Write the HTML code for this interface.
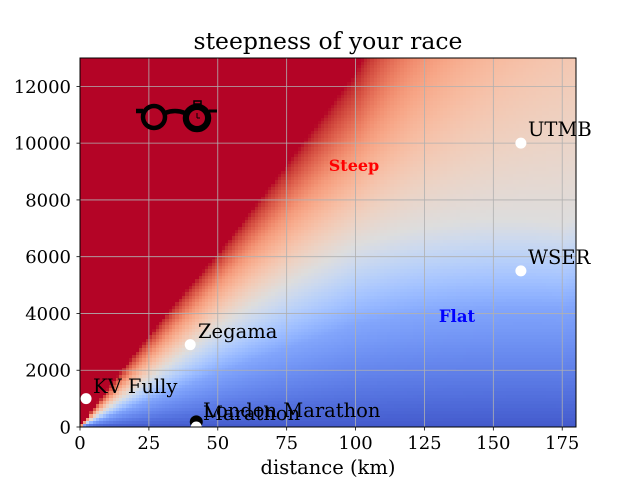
<!DOCTYPE html>
<html><head><meta charset="utf-8"><style>
body{margin:0;background:#fff;width:640px;height:480px;overflow:hidden;position:relative;font-family:"DejaVu Serif","Liberation Serif",serif;}
#hm{position:absolute;left:80px;top:58px;image-rendering:pixelated;}
svg{position:absolute;left:0;top:0;font-family:"DejaVu Serif","Liberation Serif",serif;}
svg text{font-family:"DejaVu Serif","Liberation Serif",serif;}
</style></head><body>
<canvas id="hm" width="496" height="369"></canvas>
<svg id="ov" width="640" height="480"></svg>
<script>
const xTicks=[0,25,50,75,100,125,150,175];
const yTicks=[0,2000,4000,6000,8000,10000,12000];
const raceNames=["KV Fully","Zegama","UTMB","WSER","London Marathon","Marathon"];
const raceDist=[2.2,40,160,160,42.2,42.2];
const raceElev=[1000,2900,10000,5500,180,0];
// heatmap calibration: ratio m/km at colormap levels, per distance
const calDist=[0,50,100,175];
const calR25=[36,38,36,24];
const calR50=[65,70,64,41];
const calR75=[100,100,97,112];
const calR100=[135,122,125,185];
const cw=[[59,76,192],[68,90,204],[77,104,215],[87,117,225],[98,130,234],[108,142,241],[119,154,247],[130,165,251],[141,176,254],[152,185,255],[163,194,255],[174,201,253],[184,208,249],[194,213,244],[204,217,238],[213,219,230],[221,221,221],[229,216,209],[236,211,197],[241,204,185],[245,196,173],[247,187,160],[247,177,148],[247,166,135],[244,154,123],[241,141,111],[236,127,99],[229,112,88],[222,96,77],[213,80,66],[203,62,56],[192,40,47],[180,4,38]];
const X0=80,X1=576,Y0=58,Y1=427,XMAX=180,YMAX=13000;
const xs=d=>X0+d/XMAX*(X1-X0), ys=e=>Y1-e/YMAX*(Y1-Y0);
function lerpArr(xa,ya,x){if(x<=xa[0])return ya[0];for(let i=1;i<xa.length;i++){if(x<=xa[i]){const f=(x-xa[i-1])/(xa[i]-xa[i-1]);return ya[i-1]+f*(ya[i]-ya[i-1]);}}return ya[ya.length-1];}
function tval(d,e){const r=e/Math.max(d,0.01);
 const kr=[0,lerpArr(calDist,calR25,d),lerpArr(calDist,calR50,d),lerpArr(calDist,calR75,d),lerpArr(calDist,calR100,d)];
 return Math.min(1,lerpArr(kr,[0.03,0.22,0.5,0.75,1],r));}
function cmap(t){t=Math.max(0,Math.min(1,t));const p=t*32,i=Math.min(31,Math.floor(p)),f=p-i;const a=cw[i],b=cw[i+1];return a.map((v,k)=>Math.round(v+f*(b[k]-v)));}
const cv=document.getElementById('hm'),ctx=cv.getContext('2d');
const NC=150,NR=112,W=496,H=369;
for(let i=0;i<NC;i++)for(let j=0;j<NR;j++){
 const d=(i+0.5)*XMAX/NC,e=(j+0.5)*YMAX/NR;const c=cmap(tval(d,e));
 ctx.fillStyle=`rgb(${c[0]},${c[1]},${c[2]})`;
 const x0=Math.floor(i*W/NC),x1=Math.ceil((i+1)*W/NC),y1=Math.ceil(H-j*H/NR),y0=Math.floor(H-(j+1)*H/NR);
 ctx.fillRect(x0,y0,x1-x0,y1-y0);}
const ov=document.getElementById('ov');const NS='http://www.w3.org/2000/svg';
function mk(tag,at,txt){const el=document.createElementNS(NS,tag);for(const k in at)el.setAttribute(k,at[k]);if(txt!==undefined)el.textContent=txt;ov.appendChild(el);return el;}
const defs=mk('defs',{});const cp=document.createElementNS(NS,'clipPath');cp.setAttribute('id','ac');const cr=document.createElementNS(NS,'rect');cr.setAttribute('x',X0);cr.setAttribute('y',Y0);cr.setAttribute('width',X1-X0);cr.setAttribute('height',Y1-Y0);cp.appendChild(cr);defs.appendChild(cp);
xTicks.forEach(v=>{const x=xs(v);
 let g=mk('line',{x1:x,x2:x,y1:Y0,y2:Y1,stroke:'#b0b0b0','stroke-width':0.8});
 
 let t=mk('line',{x1:x,x2:x,y1:Y1,y2:Y1+3.5,stroke:'#000','stroke-width':0.8});
 
 let l=mk('text',{x:x,y:Y1+22,'font-size':18,'text-anchor':'middle'},String(v));
 });
yTicks.forEach(v=>{const y=ys(v);
 let g=mk('line',{x1:X0,x2:X1,y1:y,y2:y,stroke:'#b0b0b0','stroke-width':0.8});
 
 let t=mk('line',{x1:X0-3.5,x2:X0,y1:y,y2:y,stroke:'#000','stroke-width':0.8});
 
 let l=mk('text',{x:X0-9,y:y+6.5,'font-size':18,'text-anchor':'end'},String(v));
 });
const gp=mk('g',{'clip-path':'url(#ac)'});
raceNames.forEach((n,i)=>{const x=xs(raceDist[i]),y=ys(raceElev[i]);
 const c=document.createElementNS(NS,'circle');c.setAttribute('cx',x);c.setAttribute('cy',y);c.setAttribute('r',n==='London Marathon'?6.5:5.5);c.setAttribute('fill',n==='London Marathon'?'#000':'#fff');
 gp.appendChild(c);});
const labelPos=[[93,393],[198,338],[528,136],[528,264],[203,417],[203,420]];
raceNames.forEach((n,i)=>{let l=mk('text',{x:labelPos[i][0],y:labelPos[i][1],'font-size':19.5},n);
 });
let s=mk('text',{x:354,y:171,'font-size':16,'font-weight':'bold',fill:'#ff0000','text-anchor':'middle'},'Steep');

let f=mk('text',{x:457,y:322,'font-size':16.5,'font-weight':'bold',fill:'#0000ff','text-anchor':'middle'},'Flat');

let fr=mk('rect',{x:X0,y:Y0,width:X1-X0,height:Y1-Y0,fill:'none',stroke:'#000','stroke-width':1});

let ti=mk('text',{x:328,y:49,'font-size':23.5,'text-anchor':'middle'},'steepness of your race');

let xl=mk('text',{x:328,y:474,'font-size':19.5,'text-anchor':'middle'},'distance (km)');

let yl=mk('text',{x:0,y:0,'font-size':19.5,'text-anchor':'middle',transform:'translate(-9,242) rotate(-90)'},'elevation (m)');

// logo: glasses + stopwatch
const lg=mk('g',{fill:'none',stroke:'#000','stroke-width':4.5});

lg.innerHTML='<line x1="136" y1="111" x2="143" y2="111"/><circle cx="154" cy="117" r="11"/><path d="M165 113 Q175 109 185 113"/><circle cx="197" cy="118" r="12" fill="#000"/><circle cx="197" cy="118" r="8" fill="#b40426" stroke="none"/><line x1="209" y1="111" x2="217" y2="111" stroke-width="3"/><rect x="194" y="101" width="7" height="3" stroke-width="1.5"/><line x1="197" y1="104" x2="197" y2="107" stroke-width="2"/><line x1="197" y1="113" x2="197" y2="118" stroke-width="1"/><line x1="197" y1="118" x2="200" y2="118" stroke-width="1"/>';
</script>
</body></html>
